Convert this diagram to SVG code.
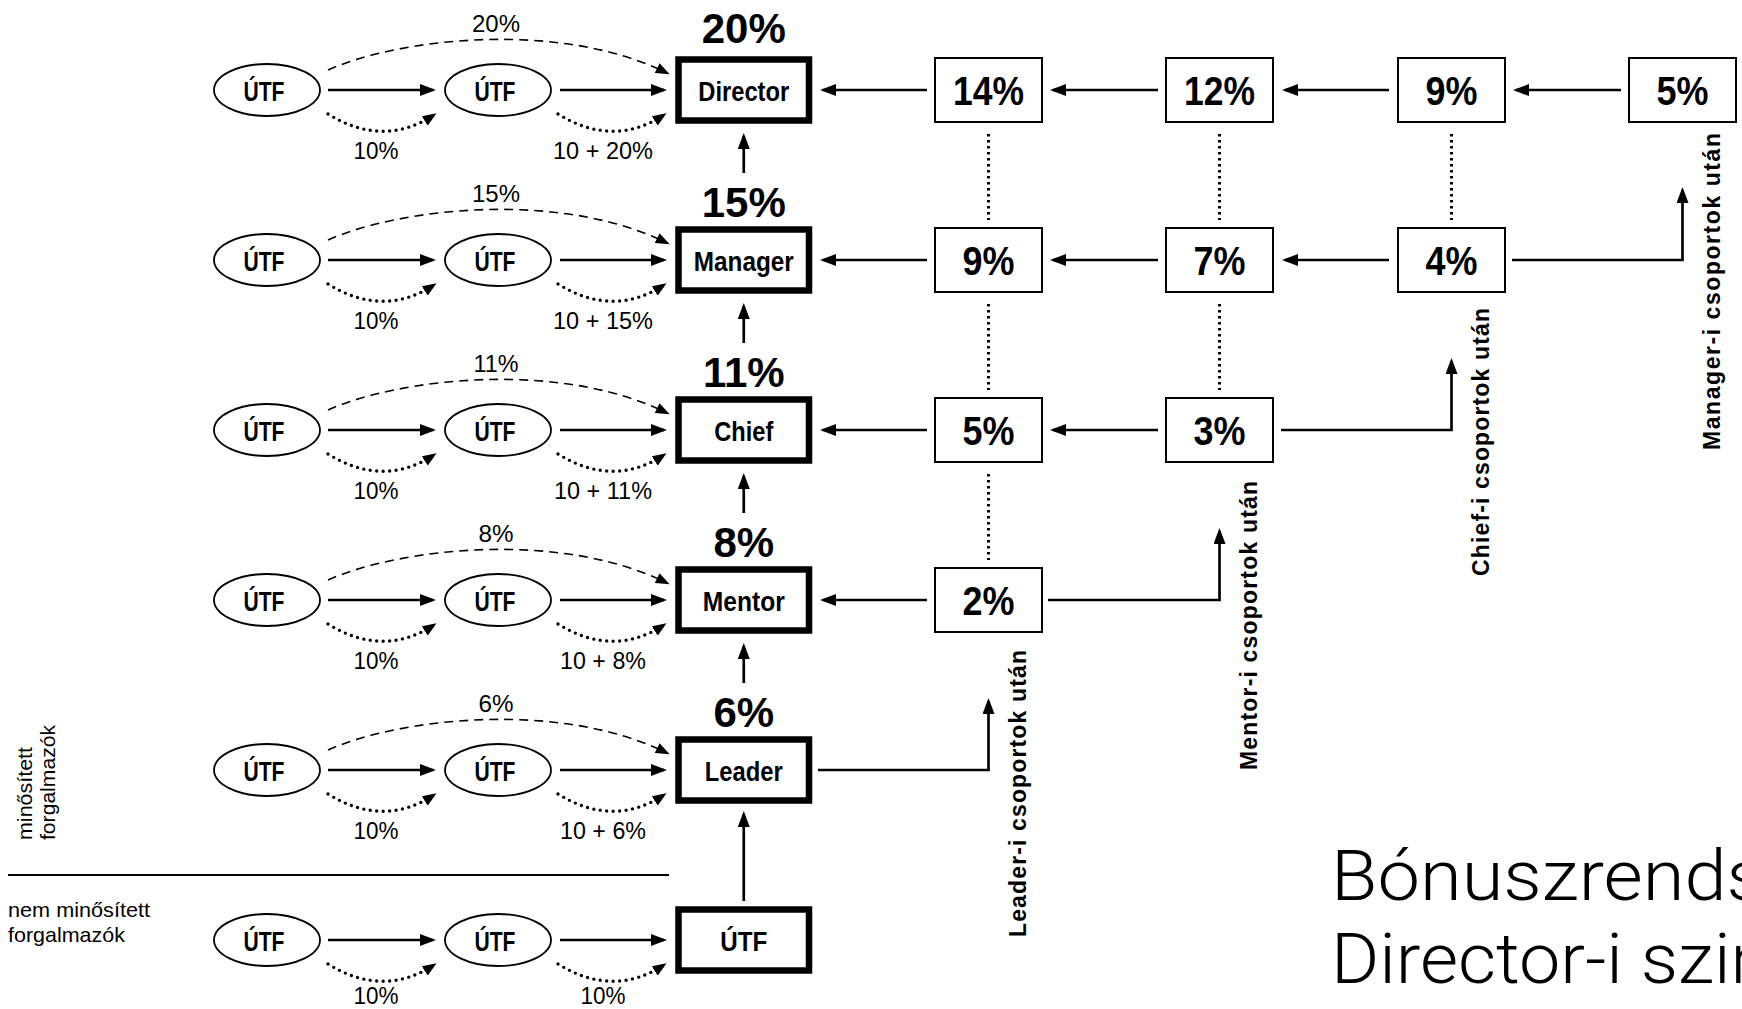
<svg xmlns="http://www.w3.org/2000/svg" width="1742" height="1009" viewBox="0 0 1742 1009">
<defs>
<marker id="ah" viewBox="0 0 16 12" refX="13" refY="6" markerWidth="16" markerHeight="12" markerUnits="userSpaceOnUse" orient="auto"><path d="M0,0 L16,6 L0,12 z" fill="#000" stroke="none"/></marker>
<marker id="ahs" viewBox="0 0 14 11" refX="11" refY="5.5" markerWidth="14" markerHeight="11" markerUnits="userSpaceOnUse" orient="auto"><path d="M0,0 L14,5.5 L0,11 z" fill="#000" stroke="none"/></marker>
</defs>
<style>
.ell{fill:#fff;stroke:#000;stroke-width:1.8}
.mbox{fill:#fff;stroke:#000;stroke-width:6.5}
.rbox{fill:#fff;stroke:#000;stroke-width:2}
.ln{fill:none;stroke:#000;stroke-width:2.7}
.dash{fill:none;stroke:#000;stroke-width:1.6;stroke-dasharray:9 6}
.dot{fill:none;stroke:#000;stroke-width:3.4;stroke-dasharray:0 6.5;stroke-linecap:round}
.vdot{fill:none;stroke:#000;stroke-width:3;stroke-dasharray:2.6 3.4}
.bt{font-family:"Liberation Sans",Arial,sans-serif;font-weight:bold;font-size:28px;text-anchor:middle;fill:#000}
.big{font-family:"Liberation Sans",Arial,sans-serif;font-weight:bold;font-size:42px;text-anchor:middle;fill:#000}
.rn{font-family:"Liberation Sans",Arial,sans-serif;font-weight:bold;font-size:41px;text-anchor:middle;fill:#000}
.sm{font-family:"Liberation Sans",Arial,sans-serif;font-size:24px;text-anchor:middle;fill:#000}
.rot{font-family:"Liberation Sans",Arial,sans-serif;font-weight:bold;font-size:23px;fill:#000}
.side{font-family:"Liberation Sans",Arial,sans-serif;font-size:21px;fill:#000}
.title{font-family:Roboto,"Liberation Sans",sans-serif;font-weight:300;font-size:70px;fill:#000}
</style>

<!-- connectors -->
<g id="connectors">
  <!-- row Director cy=90 -->
  <path class="ln" d="M328,90 H433" marker-end="url(#ah)"/>
  <path class="ln" d="M560,90 H664" marker-end="url(#ah)"/>
  <path class="dash" d="M328,70 C400,38 560,20 667,73" marker-end="url(#ahs)"/>
  <path class="dot" d="M328,114 Q383,148 434,115" marker-end="url(#ahs)"/>
  <path class="dot" d="M558,114 Q613,148 664,115" marker-end="url(#ahs)"/>
  <!-- row Manager cy=260 -->
  <path class="ln" d="M328,260 H433" marker-end="url(#ah)"/>
  <path class="ln" d="M560,260 H664" marker-end="url(#ah)"/>
  <path class="dash" d="M328,240 C400,208 560,190 667,243" marker-end="url(#ahs)"/>
  <path class="dot" d="M328,284 Q383,318 434,285" marker-end="url(#ahs)"/>
  <path class="dot" d="M558,284 Q613,318 664,285" marker-end="url(#ahs)"/>
  <!-- row Chief cy=430 -->
  <path class="ln" d="M328,430 H433" marker-end="url(#ah)"/>
  <path class="ln" d="M560,430 H664" marker-end="url(#ah)"/>
  <path class="dash" d="M328,410 C400,378 560,360 667,413" marker-end="url(#ahs)"/>
  <path class="dot" d="M328,454 Q383,488 434,455" marker-end="url(#ahs)"/>
  <path class="dot" d="M558,454 Q613,488 664,455" marker-end="url(#ahs)"/>
  <!-- row Mentor cy=600 -->
  <path class="ln" d="M328,600 H433" marker-end="url(#ah)"/>
  <path class="ln" d="M560,600 H664" marker-end="url(#ah)"/>
  <path class="dash" d="M328,580 C400,548 560,530 667,583" marker-end="url(#ahs)"/>
  <path class="dot" d="M328,624 Q383,658 434,625" marker-end="url(#ahs)"/>
  <path class="dot" d="M558,624 Q613,658 664,625" marker-end="url(#ahs)"/>
  <!-- row Leader cy=770 -->
  <path class="ln" d="M328,770 H433" marker-end="url(#ah)"/>
  <path class="ln" d="M560,770 H664" marker-end="url(#ah)"/>
  <path class="dash" d="M328,750 C400,718 560,700 667,753" marker-end="url(#ahs)"/>
  <path class="dot" d="M328,794 Q383,828 434,795" marker-end="url(#ahs)"/>
  <path class="dot" d="M558,794 Q613,828 664,795" marker-end="url(#ahs)"/>
  <!-- row UTF cy=940 -->
  <path class="ln" d="M328,940 H433" marker-end="url(#ah)"/>
  <path class="ln" d="M560,940 H664" marker-end="url(#ah)"/>
  <path class="dot" d="M328,964 Q383,998 434,965" marker-end="url(#ahs)"/>
  <path class="dot" d="M558,964 Q613,998 664,965" marker-end="url(#ahs)"/>

  <!-- vertical arrows between main boxes -->
  <path class="ln" d="M743.75,173 V136" marker-end="url(#ah)"/>
  <path class="ln" d="M743.75,343 V306" marker-end="url(#ah)"/>
  <path class="ln" d="M743.75,513 V476" marker-end="url(#ah)"/>
  <path class="ln" d="M743.75,683 V646" marker-end="url(#ah)"/>
  <path class="ln" d="M743.75,901 V814" marker-end="url(#ah)"/>

  <!-- horizontal arrows right columns -->
  <path class="ln" d="M927,90 H823" marker-end="url(#ah)"/>
  <path class="ln" d="M1158,90 H1053" marker-end="url(#ah)"/>
  <path class="ln" d="M1389,90 H1285" marker-end="url(#ah)"/>
  <path class="ln" d="M1621,90 H1516" marker-end="url(#ah)"/>
  <path class="ln" d="M927,260 H823" marker-end="url(#ah)"/>
  <path class="ln" d="M1158,260 H1053" marker-end="url(#ah)"/>
  <path class="ln" d="M1389,260 H1285" marker-end="url(#ah)"/>
  <path class="ln" d="M927,430 H823" marker-end="url(#ah)"/>
  <path class="ln" d="M1158,430 H1053" marker-end="url(#ah)"/>
  <path class="ln" d="M927,600 H823" marker-end="url(#ah)"/>

  <!-- elbow arrows -->
  <path class="ln" d="M818,770 H988.5 V701" marker-end="url(#ah)"/>
  <path class="ln" d="M1048,600 H1219.5 V531" marker-end="url(#ah)"/>
  <path class="ln" d="M1281,430 H1451.5 V361" marker-end="url(#ah)"/>
  <path class="ln" d="M1512,260 H1682.5 V190" marker-end="url(#ah)"/>

  <!-- dotted verticals -->
  <path class="vdot" d="M988.5,134 V220 M988.5,304 V390 M988.5,474 V560"/>
  <path class="vdot" d="M1219.5,134 V220 M1219.5,304 V390"/>
  <path class="vdot" d="M1451.5,134 V220"/>

  <!-- separator -->
  <path d="M8,875 H669" stroke="#000" stroke-width="2.2" fill="none"/>
</g>

<!-- row Director -->
<g id="row-director">
  <ellipse class="ell" cx="267" cy="90" rx="53" ry="26"/>
  <text class="bt" x="264" y="101" textLength="41" lengthAdjust="spacingAndGlyphs">ÚTF</text>
  <ellipse class="ell" cx="498" cy="90" rx="53" ry="26"/>
  <text class="bt" x="495" y="101" textLength="41" lengthAdjust="spacingAndGlyphs">ÚTF</text>
  <rect class="mbox" x="678.5" y="59.5" width="130.5" height="61"/>
  <text class="bt" x="743.75" y="101" textLength="91" lengthAdjust="spacingAndGlyphs">Director</text>
  <text class="big" x="743.75" y="43">20%</text>
  <text class="sm" x="496" y="32" textLength="48" lengthAdjust="spacingAndGlyphs">20%</text>
  <text class="sm" x="376" y="159" textLength="45" lengthAdjust="spacingAndGlyphs">10%</text>
  <text class="sm" x="603" y="159" textLength="100" lengthAdjust="spacingAndGlyphs">10 + 20%</text>
</g>
<!-- row Manager -->
<g id="row-manager">
  <ellipse class="ell" cx="267" cy="260" rx="53" ry="26"/>
  <text class="bt" x="264" y="271" textLength="41" lengthAdjust="spacingAndGlyphs">ÚTF</text>
  <ellipse class="ell" cx="498" cy="260" rx="53" ry="26"/>
  <text class="bt" x="495" y="271" textLength="41" lengthAdjust="spacingAndGlyphs">ÚTF</text>
  <rect class="mbox" x="678.5" y="229.5" width="130.5" height="61"/>
  <text class="bt" x="743.75" y="271" textLength="100" lengthAdjust="spacingAndGlyphs">Manager</text>
  <text class="big" x="743.75" y="217">15%</text>
  <text class="sm" x="496" y="202" textLength="48" lengthAdjust="spacingAndGlyphs">15%</text>
  <text class="sm" x="376" y="329" textLength="45" lengthAdjust="spacingAndGlyphs">10%</text>
  <text class="sm" x="603" y="329" textLength="100" lengthAdjust="spacingAndGlyphs">10 + 15%</text>
</g>
<!-- row Chief -->
<g id="row-chief">
  <ellipse class="ell" cx="267" cy="430" rx="53" ry="26"/>
  <text class="bt" x="264" y="441" textLength="41" lengthAdjust="spacingAndGlyphs">ÚTF</text>
  <ellipse class="ell" cx="498" cy="430" rx="53" ry="26"/>
  <text class="bt" x="495" y="441" textLength="41" lengthAdjust="spacingAndGlyphs">ÚTF</text>
  <rect class="mbox" x="678.5" y="399.5" width="130.5" height="61"/>
  <text class="bt" x="743.75" y="441" textLength="59" lengthAdjust="spacingAndGlyphs">Chief</text>
  <text class="big" x="743.75" y="387">11%</text>
  <text class="sm" x="496" y="372" textLength="45" lengthAdjust="spacingAndGlyphs">11%</text>
  <text class="sm" x="376" y="499" textLength="45" lengthAdjust="spacingAndGlyphs">10%</text>
  <text class="sm" x="603" y="499" textLength="98" lengthAdjust="spacingAndGlyphs">10 + 11%</text>
</g>
<!-- row Mentor -->
<g id="row-mentor">
  <ellipse class="ell" cx="267" cy="600" rx="53" ry="26"/>
  <text class="bt" x="264" y="611" textLength="41" lengthAdjust="spacingAndGlyphs">ÚTF</text>
  <ellipse class="ell" cx="498" cy="600" rx="53" ry="26"/>
  <text class="bt" x="495" y="611" textLength="41" lengthAdjust="spacingAndGlyphs">ÚTF</text>
  <rect class="mbox" x="678.5" y="569.5" width="130.5" height="61"/>
  <text class="bt" x="743.75" y="611" textLength="82" lengthAdjust="spacingAndGlyphs">Mentor</text>
  <text class="big" x="743.75" y="557">8%</text>
  <text class="sm" x="496" y="542" textLength="35" lengthAdjust="spacingAndGlyphs">8%</text>
  <text class="sm" x="376" y="669" textLength="45" lengthAdjust="spacingAndGlyphs">10%</text>
  <text class="sm" x="603" y="669" textLength="86" lengthAdjust="spacingAndGlyphs">10 + 8%</text>
</g>
<!-- row Leader -->
<g id="row-leader">
  <ellipse class="ell" cx="267" cy="770" rx="53" ry="26"/>
  <text class="bt" x="264" y="781" textLength="41" lengthAdjust="spacingAndGlyphs">ÚTF</text>
  <ellipse class="ell" cx="498" cy="770" rx="53" ry="26"/>
  <text class="bt" x="495" y="781" textLength="41" lengthAdjust="spacingAndGlyphs">ÚTF</text>
  <rect class="mbox" x="678.5" y="739.5" width="130.5" height="61"/>
  <text class="bt" x="743.75" y="781" textLength="78" lengthAdjust="spacingAndGlyphs">Leader</text>
  <text class="big" x="743.75" y="727">6%</text>
  <text class="sm" x="496" y="712" textLength="35" lengthAdjust="spacingAndGlyphs">6%</text>
  <text class="sm" x="376" y="839" textLength="45" lengthAdjust="spacingAndGlyphs">10%</text>
  <text class="sm" x="603" y="839" textLength="86" lengthAdjust="spacingAndGlyphs">10 + 6%</text>
</g>
<!-- row UTF (non-qualified) -->
<g id="row-utf">
  <ellipse class="ell" cx="267" cy="940" rx="53" ry="26"/>
  <text class="bt" x="264" y="951" textLength="41" lengthAdjust="spacingAndGlyphs">ÚTF</text>
  <ellipse class="ell" cx="498" cy="940" rx="53" ry="26"/>
  <text class="bt" x="495" y="951" textLength="41" lengthAdjust="spacingAndGlyphs">ÚTF</text>
  <rect class="mbox" x="678.5" y="909.5" width="130.5" height="61"/>
  <text class="bt" x="743.75" y="951" textLength="47" lengthAdjust="spacingAndGlyphs">ÚTF</text>
  <text class="sm" x="376" y="1004" textLength="45" lengthAdjust="spacingAndGlyphs">10%</text>
  <text class="sm" x="603" y="1004" textLength="45" lengthAdjust="spacingAndGlyphs">10%</text>
</g>

<!-- right column boxes -->
<g id="box-a1"><rect class="rbox" x="935" y="58" width="107" height="64"/><text class="rn" x="988.5" y="105" textLength="71" lengthAdjust="spacingAndGlyphs">14%</text></g>
<g id="box-b1"><rect class="rbox" x="1166" y="58" width="107" height="64"/><text class="rn" x="1219.5" y="105" textLength="71" lengthAdjust="spacingAndGlyphs">12%</text></g>
<g id="box-c1"><rect class="rbox" x="1398" y="58" width="107" height="64"/><text class="rn" x="1451.5" y="105" textLength="52" lengthAdjust="spacingAndGlyphs">9%</text></g>
<g id="box-d1"><rect class="rbox" x="1629" y="58" width="107" height="64"/><text class="rn" x="1682.5" y="105" textLength="52" lengthAdjust="spacingAndGlyphs">5%</text></g>
<g id="box-a2"><rect class="rbox" x="935" y="228" width="107" height="64"/><text class="rn" x="988.5" y="275" textLength="52" lengthAdjust="spacingAndGlyphs">9%</text></g>
<g id="box-b2"><rect class="rbox" x="1166" y="228" width="107" height="64"/><text class="rn" x="1219.5" y="275" textLength="52" lengthAdjust="spacingAndGlyphs">7%</text></g>
<g id="box-c2"><rect class="rbox" x="1398" y="228" width="107" height="64"/><text class="rn" x="1451.5" y="275" textLength="52" lengthAdjust="spacingAndGlyphs">4%</text></g>
<g id="box-a3"><rect class="rbox" x="935" y="398" width="107" height="64"/><text class="rn" x="988.5" y="445" textLength="52" lengthAdjust="spacingAndGlyphs">5%</text></g>
<g id="box-b3"><rect class="rbox" x="1166" y="398" width="107" height="64"/><text class="rn" x="1219.5" y="445" textLength="52" lengthAdjust="spacingAndGlyphs">3%</text></g>
<g id="box-a4"><rect class="rbox" x="935" y="568" width="107" height="64"/><text class="rn" x="988.5" y="615" textLength="52" lengthAdjust="spacingAndGlyphs">2%</text></g>

<!-- rotated labels -->
<g id="labels">
  <text class="rot" transform="translate(1026,937) rotate(-90)" textLength="287">Leader-i csoportok után</text>
  <text class="rot" transform="translate(1257,770) rotate(-90)" textLength="289">Mentor-i csoportok után</text>
  <text class="rot" transform="translate(1489,576) rotate(-90)" textLength="268">Chief-i csoportok után</text>
  <text class="rot" transform="translate(1720,450) rotate(-90)" textLength="317">Manager-i csoportok után</text>
  <text class="side" transform="translate(32,840) rotate(-90)" textLength="93" lengthAdjust="spacingAndGlyphs">minősített</text>
  <text class="side" transform="translate(55,840) rotate(-90)" textLength="115" lengthAdjust="spacingAndGlyphs">forgalmazók</text>
  <text class="side" x="8" y="917" textLength="142" lengthAdjust="spacingAndGlyphs">nem minősített</text>
  <text class="side" x="8" y="942" textLength="117" lengthAdjust="spacingAndGlyphs">forgalmazók</text>
  <text class="title" x="1331" y="900" textLength="434" lengthAdjust="spacingAndGlyphs">Bónuszrends</text>
  <text class="title" x="1331" y="983" textLength="440" lengthAdjust="spacingAndGlyphs">Director-i szin</text>
</g>
</svg>
